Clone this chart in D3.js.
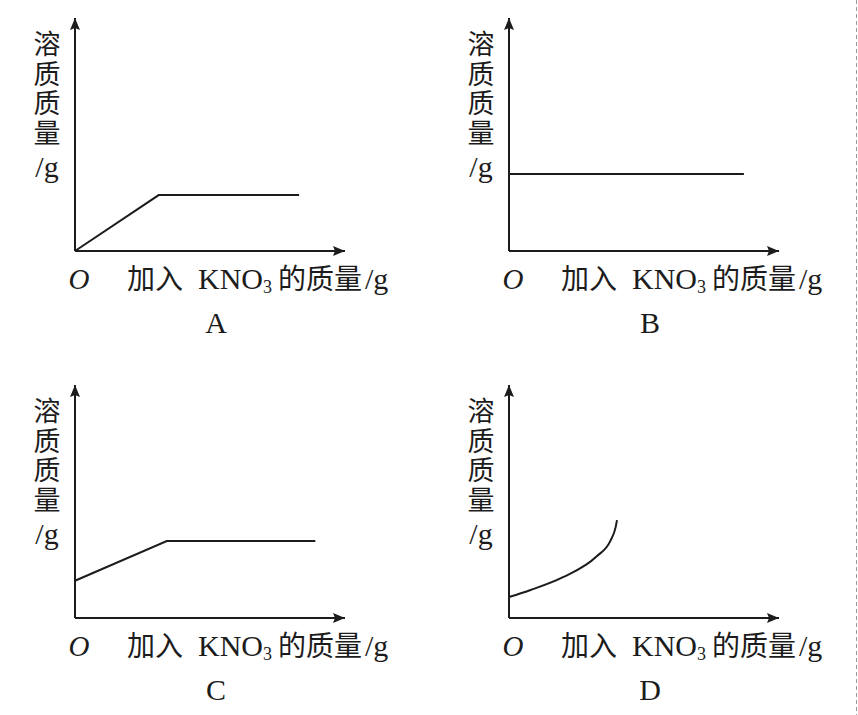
<!DOCTYPE html>
<html>
<head>
<meta charset="utf-8">
<script src="https://cdn.jsdelivr.net/npm/d3@7"></script>
<style>
  html, body { margin: 0; padding: 0; background: #fff; }
  svg { display: block; }
</style>
</head>
<body>
<div id="chart"></div>
<script>
(function () {

    // values (notional units, 0..10 on both axes)
    var panelLetters = ["A", "B", "C", "D"];
    var yLabelChars = ["溶", "质", "质", "量"];
    var yUnit = "/g";
    var xLabelParts = ["加入", "KNO", "3", "的质量", "/g"];

    var seriesA = [[0, 0], [3.1, 2.4], [8.3, 2.4]];
    var seriesB = [[0, 3.3], [8.7, 3.3]];
    var seriesC = [[0, 1.6], [3.4, 3.3], [8.9, 3.3]];
    var seriesD = [[0, 0.9], [0.8, 1.2], [2.0, 1.75], [3.25, 2.65], [3.75, 3.3], [3.95, 3.9], [4.0, 4.2]];

    var allSeries = [seriesA, seriesB, seriesC, seriesD];

    var width = 858, height = 715,
        axisW = 270, axisH = 233,
        font = "'Liberation Serif', 'Noto Sans CJK SC', serif",
        ink = "#1c1c1c";

    // origin of every small plot
    var origins = [[75, 251], [509, 251], [75, 618], [509, 618]];

    var x = d3.scaleLinear().domain([0, 10]).range([0, axisW]),
        y = d3.scaleLinear().domain([0, 10]).range([0, -axisH]);

    var svg = d3.select("#chart").append("svg")
        .attr("width", width)
        .attr("height", height);

    svg.append("rect")
        .attr("width", width)
        .attr("height", height)
        .style("fill", "#fff");

    svg.append("defs").append("marker")
        .attr("id", "arrow")
        .attr("viewBox", "0 0 12 10")
        .attr("refX", 12)
        .attr("refY", 5)
        .attr("markerWidth", 12)
        .attr("markerHeight", 10)
        .attr("markerUnits", "userSpaceOnUse")
        .attr("orient", "auto")
        .append("path")
        .attr("d", "M0,0 L12,5 L0,10 L2,5 Z")
        .style("fill", ink);

    // faint dashed cut line on the right edge
    svg.append("line")
        .attr("x1", 856.5).attr("x2", 856.5)
        .attr("y1", 0).attr("y2", height)
        .style("stroke", "#999")
        .style("stroke-width", 1)
        .style("stroke-dasharray", "4,3");

    var line = d3.line()
        .x(function (d) { return x(d[0]); })
        .y(function (d) { return y(d[1]); });

    panelLetters.forEach(function (letter, i) {
        var g = svg.append("g")
            .attr("transform", "translate(" + origins[i][0] + "," + origins[i][1] + ")");

        // axes
        g.append("line")
            .attr("x1", 0).attr("y1", 0)
            .attr("x2", x(10)).attr("y2", 0)
            .style("stroke", ink).style("stroke-width", 2)
            .attr("marker-end", "url(#arrow)");
        g.append("line")
            .attr("x1", 0).attr("y1", 0)
            .attr("x2", 0).attr("y2", y(10))
            .style("stroke", ink).style("stroke-width", 2)
            .attr("marker-end", "url(#arrow)");

        // the curve
        g.append("path")
            .attr("d", line.curve(i === 3 ? d3.curveMonotoneX : d3.curveLinear)(allSeries[i]))
            .style("fill", "none")
            .style("stroke", ink)
            .style("stroke-width", 2);

        // vertical y label
        g.selectAll("text.ych")
            .data(yLabelChars)
            .enter().append("text")
            .attr("class", "ych")
            .attr("x", -28)
            .attr("y", function (d, k) { return -206 + k * 29.5; })
            .attr("text-anchor", "middle")
            .attr("dominant-baseline", "central")
            .style("font-family", font)
            .style("font-size", "27px")
            .style("fill", ink)
            .text(function (d) { return d; });

        g.append("text")
            .attr("x", -28)
            .attr("y", -74)
            .attr("text-anchor", "middle")
            .style("font-family", font)
            .style("font-size", "30px")
            .style("fill", ink)
            .text(yUnit);

        // origin mark
        g.append("text")
            .attr("x", 4)
            .attr("y", 38)
            .attr("text-anchor", "middle")
            .style("font-family", font)
            .style("font-size", "29px")
            .style("font-style", "italic")
            .style("fill", ink)
            .text("O");

        // x label, pieces placed where the picture has them
        var xt = g.append("text")
            .attr("y", 38)
            .style("font-family", font)
            .style("fill", ink);
        xt.append("tspan").attr("x", 52).style("font-size", "28px").text(xLabelParts[0]);
        xt.append("tspan").attr("x", 123).style("font-size", "30px").text(xLabelParts[1]);
        xt.append("tspan").attr("dy", 4).style("font-size", "18px").text(xLabelParts[2]);
        xt.append("tspan").attr("x", 203).attr("dy", -4).style("font-size", "28px").text(xLabelParts[3]);
        xt.append("tspan").attr("x", 290).style("font-size", "30px").text(xLabelParts[4]);

        // panel letter
        g.append("text")
            .attr("x", 141)
            .attr("y", 82)
            .attr("text-anchor", "middle")
            .style("font-family", font)
            .style("font-size", "30px")
            .style("fill", ink)
            .text(letter);
    });
}());
</script>
</body>
</html>
